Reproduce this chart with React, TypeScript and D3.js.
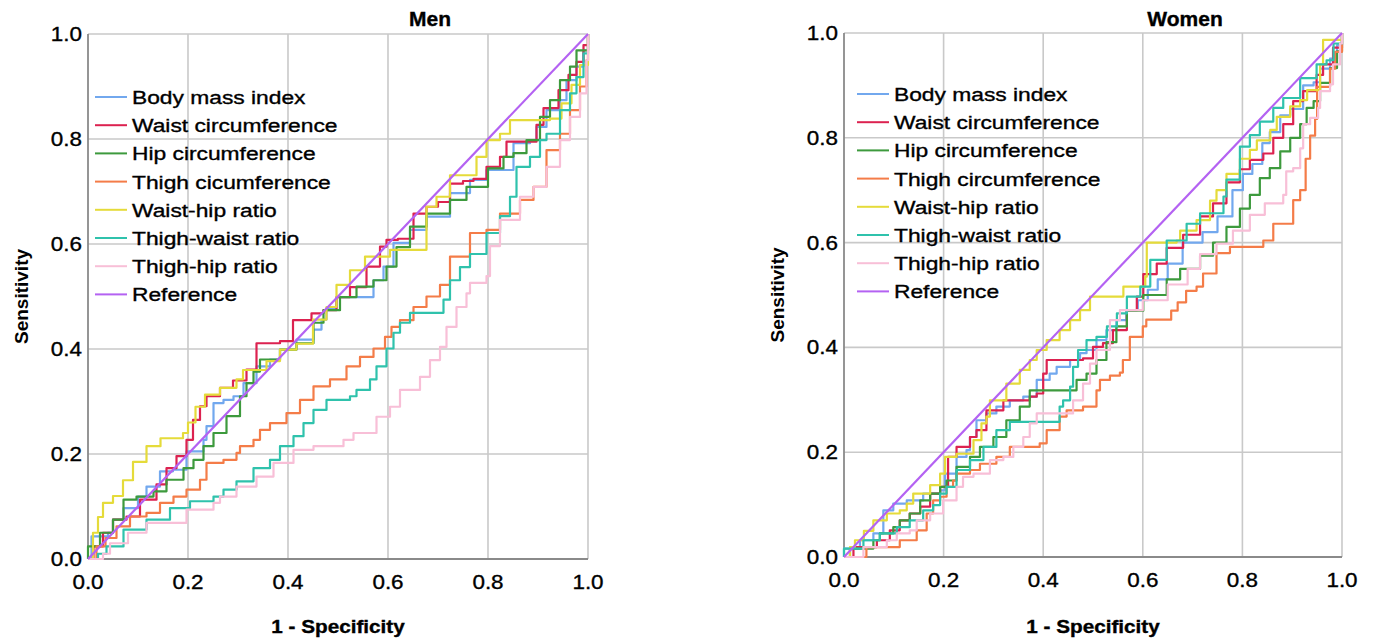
import React from "react";
import * as d3 from "d3";

const width = 1375;
const height = 642;
const font = "'Liberation Sans', Arial, sans-serif";

const ticks = [0, 0.2, 0.4, 0.6, 0.8, 1.0];
const menLabels = ["Body mass index", "Waist circumference", "Hip circumference", "Thigh cicumference", "Waist-hip ratio", "Thigh-waist ratio", "Thigh-hip ratio", "Reference"];
const womenLabels = ["Body mass index", "Waist circumference", "Hip circumference", "Thigh circumference", "Waist-hip ratio", "Thigh-waist ratio", "Thigh-hip ratio", "Reference"];
const colors = ["#72a8ee", "#dc2250", "#3d9a3d", "#f47c48", "#e5db3a", "#2fc2ac", "#f8bfd7", "#b462f2"];

const referenceLine = [[0, 0], [1, 1]];

// Men, [1 - specificity, sensitivity]
const menBmi = [[0,0],[0.007,0.043],[0.04,0.05],[0.05,0.075],[0.071,0.097],[0.1,0.119],[0.117,0.138],[0.144,0.167],[0.17,0.17],[0.197,0.205],[0.22,0.205],[0.231,0.227],[0.237,0.253],[0.251,0.297],[0.271,0.303],[0.291,0.31],[0.311,0.335],[0.337,0.367],[0.364,0.38],[0.384,0.399],[0.417,0.418],[0.451,0.437],[0.467,0.456],[0.477,0.478],[0.497,0.499],[0.551,0.499],[0.571,0.531],[0.591,0.557],[0.611,0.602],[0.644,0.627],[0.677,0.652],[0.724,0.697],[0.764,0.722],[0.797,0.741],[0.831,0.741],[0.851,0.792],[0.884,0.798],[0.897,0.823],[0.917,0.855],[0.944,0.874],[0.957,0.912],[0.977,0.938],[0.991,0.969],[1,1]];
const menWaist = [[0,0],[0.011,0.024],[0.03,0.05],[0.05,0.075],[0.077,0.081],[0.104,0.113],[0.137,0.142],[0.157,0.173],[0.177,0.196],[0.197,0.227],[0.21,0.265],[0.224,0.291],[0.237,0.31],[0.264,0.326],[0.29,0.34],[0.317,0.361],[0.337,0.411],[0.384,0.415],[0.41,0.455],[0.437,0.455],[0.447,0.468],[0.471,0.474],[0.497,0.499],[0.524,0.518],[0.557,0.557],[0.584,0.595],[0.597,0.608],[0.62,0.61],[0.651,0.658],[0.677,0.671],[0.7,0.68],[0.724,0.715],[0.75,0.72],[0.771,0.724],[0.797,0.747],[0.824,0.766],[0.837,0.795],[0.884,0.795],[0.897,0.827],[0.911,0.859],[0.941,0.893],[0.961,0.922],[0.977,0.947],[0.991,0.979],[1,1]];
const menHip = [[0,0],[0,0.024],[0.024,0.05],[0.05,0.075],[0.071,0.113],[0.097,0.119],[0.131,0.129],[0.157,0.151],[0.191,0.173],[0.211,0.189],[0.231,0.215],[0.251,0.24],[0.277,0.272],[0.304,0.31],[0.317,0.335],[0.331,0.357],[0.344,0.38],[0.384,0.399],[0.417,0.411],[0.451,0.45],[0.471,0.474],[0.504,0.499],[0.537,0.519],[0.571,0.531],[0.597,0.557],[0.617,0.594],[0.644,0.633],[0.677,0.658],[0.724,0.684],[0.757,0.709],[0.8,0.744],[0.831,0.766],[0.851,0.773],[0.877,0.798],[0.904,0.842],[0.924,0.874],[0.944,0.912],[0.964,0.938],[0.977,0.969],[1,1]];
const menThigh = [[0,0],[0.017,0.024],[0.035,0.04],[0.057,0.062],[0.084,0.081],[0.117,0.088],[0.144,0.107],[0.171,0.119],[0.197,0.132],[0.224,0.151],[0.237,0.183],[0.271,0.189],[0.297,0.202],[0.304,0.215],[0.331,0.227],[0.344,0.246],[0.364,0.259],[0.397,0.278],[0.424,0.303],[0.451,0.329],[0.484,0.342],[0.517,0.367],[0.544,0.385],[0.571,0.401],[0.594,0.423],[0.607,0.442],[0.624,0.455],[0.651,0.48],[0.677,0.5],[0.704,0.522],[0.724,0.576],[0.764,0.621],[0.797,0.627],[0.824,0.658],[0.864,0.684],[0.891,0.709],[0.917,0.779],[0.944,0.81],[0.964,0.855],[0.984,0.9],[0.997,0.95],[1,1]];
const menWhr = [[0,0],[0.01,0.05],[0.02,0.08],[0.03,0.107],[0.05,0.12],[0.07,0.15],[0.09,0.185],[0.117,0.215],[0.145,0.23],[0.19,0.24],[0.2,0.26],[0.215,0.29],[0.234,0.313],[0.264,0.326],[0.297,0.342],[0.31,0.36],[0.357,0.377],[0.384,0.399],[0.417,0.41],[0.45,0.456],[0.477,0.48],[0.497,0.522],[0.524,0.55],[0.554,0.576],[0.597,0.576],[0.604,0.589],[0.677,0.671],[0.697,0.69],[0.724,0.731],[0.777,0.766],[0.797,0.798],[0.824,0.81],[0.844,0.836],[0.924,0.839],[0.947,0.868],[0.967,0.903],[0.984,0.941],[1,1]];
const menTwr = [[0,0],[0.02,0.01],[0.037,0.024],[0.071,0.056],[0.117,0.075],[0.164,0.097],[0.204,0.11],[0.251,0.119],[0.271,0.132],[0.297,0.148],[0.331,0.173],[0.364,0.189],[0.384,0.215],[0.411,0.234],[0.431,0.259],[0.451,0.284],[0.477,0.303],[0.524,0.31],[0.537,0.322],[0.564,0.342],[0.577,0.367],[0.597,0.401],[0.611,0.431],[0.624,0.45],[0.644,0.469],[0.704,0.469],[0.711,0.494],[0.724,0.531],[0.744,0.556],[0.764,0.581],[0.797,0.621],[0.824,0.653],[0.844,0.69],[0.857,0.747],[0.884,0.766],[0.904,0.798],[0.917,0.81],[0.944,0.855],[0.964,0.887],[0.977,0.918],[0.991,0.963],[1,1]];
const menThr = [[0,0],[0.03,0.01],[0.044,0.03],[0.08,0.05],[0.117,0.069],[0.197,0.094],[0.251,0.107],[0.264,0.119],[0.297,0.138],[0.337,0.157],[0.371,0.183],[0.411,0.208],[0.451,0.215],[0.511,0.227],[0.531,0.24],[0.574,0.24],[0.577,0.271],[0.604,0.29],[0.624,0.322],[0.664,0.347],[0.684,0.379],[0.704,0.404],[0.717,0.442],[0.737,0.48],[0.757,0.506],[0.764,0.526],[0.797,0.539],[0.804,0.596],[0.824,0.646],[0.864,0.69],[0.891,0.709],[0.917,0.747],[0.944,0.798],[0.964,0.842],[0.984,0.887],[0.997,0.95],[1,1]];

// Women
const womenBmi = [[0,0],[0,0.016],[0.032,0.032],[0.059,0.045],[0.079,0.089],[0.099,0.102],[0.126,0.108],[0.159,0.121],[0.193,0.127],[0.203,0.159],[0.226,0.191],[0.246,0.204],[0.253,0.229],[0.266,0.261],[0.286,0.274],[0.306,0.287],[0.333,0.299],[0.36,0.306],[0.387,0.338],[0.413,0.35],[0.427,0.363],[0.454,0.376],[0.474,0.389],[0.487,0.395],[0.507,0.414],[0.527,0.433],[0.547,0.452],[0.567,0.471],[0.59,0.49],[0.61,0.51],[0.63,0.53],[0.65,0.56],[0.68,0.6],[0.72,0.62],[0.75,0.65],[0.78,0.7],[0.801,0.731],[0.82,0.75],[0.84,0.79],[0.855,0.811],[0.876,0.843],[0.896,0.855],[0.922,0.9],[0.943,0.906],[0.956,0.932],[0.976,0.951],[0.99,0.977],[1,1]];
const womenWaist = [[0,0],[0.019,0.019],[0.066,0.032],[0.092,0.051],[0.112,0.07],[0.132,0.083],[0.153,0.096],[0.173,0.121],[0.193,0.134],[0.209,0.191],[0.226,0.21],[0.253,0.229],[0.266,0.242],[0.286,0.28],[0.32,0.299],[0.373,0.306],[0.387,0.312],[0.4,0.35],[0.407,0.376],[0.48,0.379],[0.5,0.401],[0.52,0.408],[0.54,0.433],[0.568,0.471],[0.588,0.497],[0.601,0.54],[0.628,0.56],[0.648,0.59],[0.681,0.615],[0.715,0.65],[0.741,0.675],[0.768,0.715],[0.795,0.74],[0.815,0.758],[0.842,0.77],[0.862,0.8],[0.882,0.826],[0.902,0.87],[0.922,0.889],[0.949,0.92],[0.962,0.94],[0.982,0.972],[1,1]];
const womenHip = [[0,0],[0.012,0.016],[0.059,0.032],[0.072,0.045],[0.099,0.057],[0.112,0.07],[0.132,0.083],[0.153,0.108],[0.173,0.121],[0.193,0.134],[0.206,0.146],[0.226,0.172],[0.253,0.191],[0.273,0.21],[0.3,0.229],[0.326,0.261],[0.353,0.287],[0.373,0.318],[0.454,0.318],[0.467,0.338],[0.487,0.35],[0.507,0.376],[0.527,0.41],[0.547,0.44],[0.568,0.47],[0.601,0.5],[0.648,0.53],[0.675,0.55],[0.715,0.575],[0.741,0.6],[0.768,0.63],[0.795,0.665],[0.815,0.691],[0.835,0.723],[0.855,0.742],[0.876,0.774],[0.896,0.8],[0.916,0.826],[0.929,0.857],[0.943,0.87],[0.956,0.905],[0.976,0.933],[0.99,0.965],[1,1]];
const womenThigh = [[0,0],[0.039,0],[0.045,0.019],[0.066,0.019],[0.112,0.032],[0.139,0.032],[0.146,0.051],[0.166,0.083],[0.179,0.108],[0.193,0.115],[0.206,0.134],[0.219,0.146],[0.226,0.159],[0.253,0.166],[0.273,0.178],[0.306,0.191],[0.333,0.21],[0.393,0.217],[0.407,0.242],[0.433,0.268],[0.447,0.28],[0.48,0.287],[0.507,0.318],[0.514,0.338],[0.534,0.346],[0.554,0.352],[0.56,0.376],[0.574,0.42],[0.6,0.44],[0.607,0.453],[0.65,0.453],[0.657,0.47],[0.67,0.486],[0.687,0.508],[0.708,0.516],[0.721,0.541],[0.748,0.58],[0.775,0.592],[0.835,0.592],[0.842,0.604],[0.862,0.636],[0.889,0.636],[0.902,0.681],[0.916,0.7],[0.927,0.76],[0.936,0.804],[0.946,0.836],[0.95,0.897],[0.966,0.897],[0.976,0.932],[0.986,0.964],[1,1]];
const womenWhr = [[0,0],[0.012,0.019],[0.022,0.032],[0.04,0.05],[0.059,0.07],[0.086,0.083],[0.112,0.089],[0.126,0.102],[0.139,0.121],[0.173,0.137],[0.193,0.159],[0.203,0.191],[0.226,0.197],[0.255,0.197],[0.26,0.223],[0.276,0.255],[0.286,0.268],[0.293,0.299],[0.326,0.331],[0.353,0.357],[0.373,0.376],[0.387,0.395],[0.407,0.414],[0.433,0.433],[0.454,0.452],[0.474,0.471],[0.494,0.497],[0.561,0.497],[0.561,0.516],[0.601,0.516],[0.605,0.535],[0.608,0.6],[0.668,0.604],[0.675,0.623],[0.708,0.643],[0.735,0.68],[0.748,0.7],[0.768,0.731],[0.795,0.76],[0.815,0.777],[0.829,0.795],[0.856,0.815],[0.869,0.84],[0.896,0.86],[0.916,0.872],[0.93,0.891],[0.956,0.94],[0.962,0.987],[0.988,0.987],[1,1]];
const womenTwr = [[0,0],[0,0.016],[0.025,0.016],[0.039,0.032],[0.072,0.045],[0.106,0.057],[0.132,0.07],[0.159,0.089],[0.179,0.099],[0.193,0.121],[0.206,0.134],[0.226,0.166],[0.253,0.185],[0.28,0.21],[0.306,0.242],[0.333,0.258],[0.38,0.258],[0.433,0.287],[0.44,0.299],[0.454,0.325],[0.46,0.363],[0.47,0.395],[0.487,0.414],[0.507,0.42],[0.528,0.44],[0.548,0.465],[0.568,0.497],[0.595,0.516],[0.615,0.567],[0.648,0.604],[0.688,0.636],[0.715,0.656],[0.762,0.688],[0.768,0.72],[0.795,0.783],[0.815,0.805],[0.835,0.831],[0.862,0.857],[0.882,0.876],[0.916,0.914],[0.943,0.914],[0.949,0.94],[0.969,0.948],[0.983,0.98],[1,1]];
const womenThr = [[0,0],[0.032,0],[0.039,0.019],[0.086,0.032],[0.106,0.045],[0.132,0.051],[0.146,0.07],[0.173,0.083],[0.199,0.108],[0.226,0.134],[0.239,0.153],[0.26,0.159],[0.293,0.185],[0.32,0.191],[0.34,0.21],[0.36,0.229],[0.373,0.255],[0.387,0.274],[0.427,0.274],[0.46,0.299],[0.48,0.331],[0.494,0.369],[0.507,0.395],[0.534,0.452],[0.554,0.471],[0.6,0.49],[0.65,0.52],[0.69,0.55],[0.715,0.578],[0.748,0.598],[0.781,0.623],[0.815,0.653],[0.845,0.675],[0.882,0.691],[0.888,0.736],[0.902,0.742],[0.916,0.78],[0.922,0.826],[0.936,0.838],[0.952,0.857],[0.956,0.889],[0.976,0.902],[0.982,0.94],[0.996,0.98],[1,1]];

const menSeries = [menBmi, menWaist, menHip, menThigh, menWhr, menTwr, menThr, referenceLine];
const womenSeries = [womenBmi, womenWaist, womenHip, womenThigh, womenWhr, womenTwr, womenThr, referenceLine];

const fmt = d3.format(".1f");

// horizontally stretched text, like the source image
const T = ({ x, y, sx = 1.15, children, ...rest }: any) => (
  <text transform={`translate(${x},${y}) scale(${sx},1)`} fontFamily={font} fill="#000"
    stroke="#000" strokeWidth={0.35} {...rest}>
    {children}
  </text>
);

const Panel = ({ title, series, labels, left, right, top, bottom, legendX, legendY }: any) => {
  const x = d3.scaleLinear().domain([0, 1]).range([left, right]);
  const y = d3.scaleLinear().domain([0, 1]).range([bottom, top]);
  const step = d3.line<number[]>().x(d => x(d[0])).y(d => y(d[1])).curve(d3.curveStepAfter);
  const straight = d3.line<number[]>().x(d => x(d[0])).y(d => y(d[1]));
  const cx = (left + right) / 2;
  const cy = (top + bottom) / 2;
  return (
    <g>
      {ticks.slice(1).map(t => (
        <line key={"h" + t} x1={left} x2={right} y1={y(t)} y2={y(t)} stroke="#c9c9c9" strokeWidth={1.6} />
      ))}
      {ticks.slice(1).map(t => (
        <line key={"v" + t} x1={x(t)} x2={x(t)} y1={top} y2={bottom} stroke="#c9c9c9" strokeWidth={1.6} />
      ))}
      <line x1={left} x2={left} y1={top} y2={bottom} stroke="#8a8a8a" strokeWidth={1.8} />
      <line x1={left} x2={right} y1={bottom} y2={bottom} stroke="#8a8a8a" strokeWidth={1.8} />

      {series.map((s: number[][], i: number) => (
        <path key={i} d={(i === series.length - 1 ? straight : step)(s) || ""} fill="none"
          stroke={colors[i]} strokeWidth={2.2} strokeLinejoin="round" />
      ))}

      {labels.map((l: string, i: number) => (
        <g key={l}>
          <line x1={legendX} x2={legendX + 32} y1={legendY + i * 28.2} y2={legendY + i * 28.2} stroke={colors[i]} strokeWidth={2} />
          <T x={legendX + 37} y={legendY + i * 28.2 + 7} sx={1.2} fontSize={19}>{l}</T>
        </g>
      ))}

      {ticks.map(t => (
        <T key={"yl" + t} x={left - 6} y={y(t) + 7} fontSize={19.5} textAnchor="end">{fmt(t)}</T>
      ))}
      {ticks.map(t => (
        <T key={"xl" + t} x={x(t)} y={bottom + 30} fontSize={19.5} textAnchor="middle">{fmt(t)}</T>
      ))}

      <T x={cx + 92} y={26} sx={1.05} fontSize={20} fontWeight="bold" textAnchor="middle">{title}</T>
      <T x={cx} y={633} fontSize={18} fontWeight="bold" textAnchor="middle">1 - Specificity</T>
      <text transform={`translate(${left - 60},${cy}) rotate(-90)`} fontFamily={font} fontSize={19}
        fontWeight="bold" textAnchor="middle">Sensitivity</text>
    </g>
  );
};

const App = () => (
  <svg width={width} height={height} style={{ position: "absolute", left: 0, top: 0, background: "#fff" }}>
    <Panel title="Men" series={menSeries} labels={menLabels}
      left={88} right={588} top={34} bottom={559} legendX={95} legendY={97} />
    <Panel title="Women" series={womenSeries} labels={womenLabels}
      left={844} right={1342} top={33} bottom={557} legendX={857} legendY={94} />
  </svg>
);

export default App;
